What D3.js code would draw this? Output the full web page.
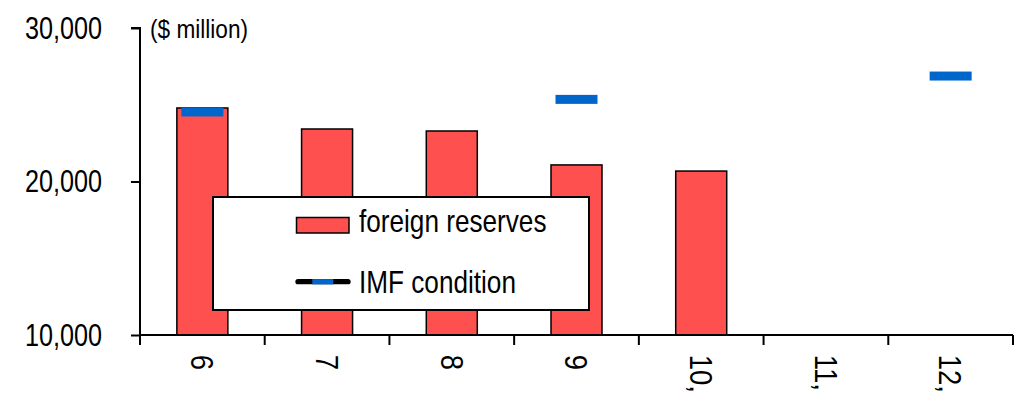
<!DOCTYPE html>
<html>

<head>
    <meta charset="UTF-8">
    <title>Foreign reserves</title>
    <script src="https://cdnjs.cloudflare.com/ajax/libs/d3/7.8.5/d3.min.js"></script>
    <style>
        body { margin: 0; background: #fff; }
        svg text { font-family: "Liberation Sans", Arial, sans-serif; fill: #000; }
    </style>
</head>

<body>

    <svg id="chart"></svg>

    <script>

        // months (labels are cut off at the bottom of the picture)
        var months = ["6", "7", "8", "9", "10,", "11,", "12,"]
        var reserves = [24790, 23420, 23290, 21080, 20680, null, null]
        var imfCondition = [24530, null, null, 25350, null, null, 26870]
        var yTicks = [10000, 20000, 30000]

        var svgWidth = 1026,
            svgHeight = 397;
        var margin = { top: 28, right: 13, bottom: 62, left: 140 };
        var width = svgWidth - margin.left - margin.right;
        var height = svgHeight - margin.top - margin.bottom;

        var svg = d3.select('#chart')
            .attr("width", svgWidth)
            .attr("height", svgHeight);

        var g = svg.append("g")
            .attr("transform", "translate(" + margin.left + "," + margin.top + ")");

        var x = d3.scaleBand().domain(months).range([0, width]).padding(0);
        var y = d3.scaleLinear().domain([10000, 30000]).range([height, 0]);

        var barW = 51, markW = 42, markH = 9;

        // the source text is condensed horizontally
        function narrow(k) {
            return function (sel) {
                sel.each(function () {
                    var len = this.getComputedTextLength();
                    d3.select(this).attr("textLength", len * k).attr("lengthAdjust", "spacingAndGlyphs");
                });
            };
        }

        // bars
        g.selectAll(".bar")
            .data(months.map(function (m, i) { return { m: m, v: reserves[i] } }).filter(function (d) { return d.v != null }))
            .enter().append("rect")
            .attr("class", "bar")
            .attr("x", function (d) { return x(d.m) + x.bandwidth() / 2 - barW / 2 })
            .attr("y", function (d) { return y(d.v) })
            .attr("width", barW)
            .attr("height", function (d) { return y(10000) - y(d.v) })
            .attr("fill", "#ff5050")
            .attr("stroke", "#000")
            .attr("stroke-width", 1.5);

        // IMF condition markers
        g.selectAll(".imf")
            .data(months.map(function (m, i) { return { m: m, v: imfCondition[i] } }).filter(function (d) { return d.v != null }))
            .enter().append("rect")
            .attr("class", "imf")
            .attr("x", function (d) { return x(d.m) + x.bandwidth() / 2 - markW / 2 })
            .attr("y", function (d) { return y(d.v) - markH / 2 })
            .attr("width", markW)
            .attr("height", markH)
            .attr("fill", "#0066cc");

        // y axis
        var yAxis = g.append("g")
            .attr("class", "axis y")
            .call(d3.axisLeft(y).tickValues(yTicks).tickSize(9).tickPadding(29).tickFormat(d3.format(",")));
        yAxis.selectAll("text").style("font-size", "31.5px").call(narrow(0.8));

        // x axis, ticks between categories
        var xAxis = g.append("g")
            .attr("class", "axis x")
            .attr("transform", "translate(0," + height + ")")
            .call(d3.axisBottom(x).tickSize(0).tickPadding(0));
        xAxis.selectAll(".tick text")
            .attr("transform", "rotate(90) scale(0.86,1)")
            .attr("x", 23)
            .attr("y", 0)
            .attr("dy", "0.35em")
            .attr("text-anchor", "start")
            .style("font-size", "32px");
        var bounds = d3.range(months.length + 1).map(function (i) { return i * x.bandwidth() });
        xAxis.selectAll(".sep")
            .data(bounds)
            .enter().append("line")
            .attr("class", "sep")
            .attr("x1", function (d) { return d }).attr("x2", function (d) { return d })
            .attr("y1", 0).attr("y2", 10)
            .attr("stroke", "#000").attr("stroke-width", 2);

        svg.selectAll(".axis path, .axis line").attr("stroke", "#000").attr("stroke-width", 2);
        svg.selectAll(".axis .domain").attr("d", function () {
            return d3.select(this.parentNode).classed("y") ? "M-9,0H0V" + height : "M0,0H" + width;
        });

        // unit label
        g.append("text")
            .attr("x", 10)
            .attr("y", 10)
            .style("font-size", "26px")
            .text("($ million)")
            .call(narrow(0.87));

        // legend
        var lg = svg.append("g").attr("transform", "translate(213,197)");
        lg.append("rect")
            .attr("width", 376).attr("height", 113)
            .attr("fill", "#fff").attr("stroke", "#000").attr("stroke-width", 2);
        lg.append("rect")
            .attr("x", 83.5).attr("y", 20.5).attr("width", 52.5).attr("height", 15.5)
            .attr("fill", "#ff5050").attr("stroke", "#000").attr("stroke-width", 1.5);
        lg.append("text").attr("x", 146).attr("y", 34.7).style("font-size", "31.5px").text("foreign reserves").call(narrow(0.83));
        lg.append("line")
            .attr("x1", 85).attr("x2", 135).attr("y1", 84.7).attr("y2", 84.7)
            .attr("stroke", "#000").attr("stroke-width", 5.3).attr("stroke-linecap", "round");
        lg.append("line")
            .attr("x1", 99.3).attr("x2", 120.3).attr("y1", 84.7).attr("y2", 84.7)
            .attr("stroke", "#0066cc").attr("stroke-width", 5.3);
        lg.append("text").attr("x", 146).attr("y", 96.3).style("font-size", "31.5px").text("IMF condition").call(narrow(0.83));

    </script>

</body>

</html>
